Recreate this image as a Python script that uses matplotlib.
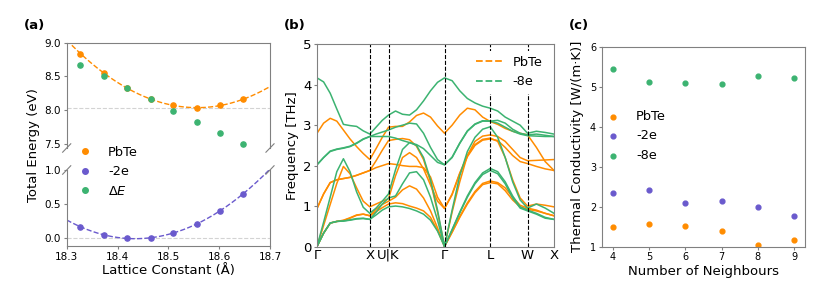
import numpy as np
import matplotlib.pyplot as plt
from matplotlib.lines import Line2D

orange = '#ff8c00'
purple = '#6a5acd'
green = '#3cb371'
spine_col = '#808080'

# (a) total energy vs lattice constant
lattice = [18.327, 18.373, 18.419, 18.465, 18.51, 18.556, 18.601, 18.647]
e_pbte = [8.84, 8.55, 8.33, 8.16, 8.07, 8.04, 8.07, 8.16]
e_m2e = [0.17, 0.055, 0.0, 0.01, 0.08, 0.21, 0.405, 0.65]
e_delta = [8.67, 8.50, 8.33, 8.16, 7.99, 7.83, 7.66, 7.50]

# (b) phonon bands along the path
sym_pos = [0, 1.0, 1.354, 2.414, 3.280, 3.987, 4.487]
sym_lab = ['Γ', 'X', 'U|K', 'Γ', 'L', 'W', 'X']
kpath = [0, .125, .25, .375, .5, .625, .75, .875, 1.0,
         1.118, 1.236, 1.354,
         1.487, 1.619, 1.752, 1.884, 2.017, 2.149, 2.282, 2.414,
         2.558, 2.703, 2.847, 2.991, 3.136, 3.280,
         3.421, 3.563, 3.704, 3.846, 3.987,
         4.154, 4.320, 4.487]

pbte_bands = [
    [0, 0.33, 0.58, 0.62, 0.64, 0.70, 0.77, 0.80, 0.76, 0.86, 0.96, 1.05,
     1.08, 1.06, 1.00, 0.95, 0.88, 0.72, 0.40, 0,
     0.35, 0.72, 1.05, 1.33, 1.53, 1.58, 1.55, 1.38, 1.15, 0.98, 0.92,
     0.88, 0.82, 0.76],
    [0, 0.33, 0.58, 0.62, 0.65, 0.71, 0.78, 0.80, 0.76, 0.92, 1.04, 1.12,
     1.22, 1.40, 1.50, 1.42, 1.20, 0.88, 0.46, 0,
     0.36, 0.74, 1.08, 1.36, 1.56, 1.62, 1.58, 1.45, 1.22, 1.02, 0.95,
     0.90, 0.82, 0.76],
    [0, 0.52, 1.04, 1.56, 1.98, 1.80, 1.45, 1.12, 0.98, 1.05, 1.12, 1.18,
     1.75, 2.20, 2.32, 2.20, 1.92, 1.52, 1.12, 0.94,
     1.30, 1.82, 2.25, 2.52, 2.65, 2.68, 2.60, 2.20, 1.65, 1.20, 1.00,
     1.05, 1.02, 0.98],
    [0.94, 1.30, 1.58, 1.65, 1.68, 1.71, 1.76, 1.82, 1.88, 1.95, 2.00, 2.05,
     2.03, 2.00, 1.98, 1.98, 1.95, 1.72, 1.22, 0.94,
     1.28, 1.80, 2.22, 2.50, 2.63, 2.66, 2.62, 2.45, 2.25, 2.10, 2.05,
     1.98, 1.92, 1.88],
    [0.94, 1.30, 1.58, 1.65, 1.68, 1.71, 1.76, 1.82, 1.88, 2.12, 2.38, 2.62,
     2.65, 2.67, 2.64, 2.48, 2.15, 1.60, 0.85, 0,
     0.85, 1.60, 2.25, 2.60, 2.73, 2.76, 2.72, 2.60, 2.40, 2.20, 2.12,
     2.13, 2.14, 2.15],
    [2.80, 3.05, 3.17, 3.10, 2.88, 2.66, 2.47, 2.30, 2.15, 2.42, 2.70, 2.95,
     2.97, 2.97, 3.08, 3.24, 3.30, 3.20, 2.98, 2.80,
     3.00, 3.25, 3.42, 3.38, 3.20, 3.09, 3.02, 2.92, 2.85, 2.80, 2.76,
     2.45, 2.10, 1.88],
]

m8e_bands = [
    [0, 0.33, 0.58, 0.62, 0.63, 0.65, 0.68, 0.69, 0.67, 0.78, 0.90, 0.98,
     1.00, 0.98, 0.94, 0.88, 0.80, 0.65, 0.38, 0,
     0.42, 0.85, 1.25, 1.58, 1.82, 1.93, 1.85, 1.60, 1.25, 0.98, 0.90,
     0.82, 0.72, 0.67],
    [0, 0.33, 0.58, 0.62, 0.63, 0.66, 0.69, 0.70, 0.67, 0.85, 1.05, 1.20,
     1.25, 1.55, 1.82, 1.85, 1.65, 1.22, 0.65, 0,
     0.41, 0.83, 1.22, 1.55, 1.78, 1.88, 1.80, 1.55, 1.20, 0.95, 0.88,
     0.80, 0.70, 0.67],
    [0, 0.60, 1.22, 1.85, 2.17, 1.85, 1.35, 0.97, 0.82, 0.95, 1.12, 1.30,
     1.90, 2.40, 2.57, 2.50, 2.20, 1.65, 0.90, 0,
     0.90, 1.75, 2.35, 2.70, 2.90, 2.96, 2.70, 2.20, 1.60, 1.15, 0.95,
     1.05, 0.95, 0.82],
    [2.02, 2.20, 2.35, 2.40, 2.43, 2.47, 2.55, 2.65, 2.72, 2.72, 2.72, 2.72,
     2.68, 2.62, 2.57, 2.52, 2.42, 2.25, 2.08, 2.02,
     2.20, 2.55, 2.85, 3.02, 3.10, 3.10, 3.05, 2.95, 2.85, 2.78, 2.74,
     2.73, 2.72, 2.72],
    [2.02, 2.20, 2.36, 2.41, 2.44, 2.48, 2.56, 2.66, 2.72, 2.78, 2.83, 2.88,
     2.95, 3.00, 3.05, 3.03, 2.80, 2.45, 2.15, 2.02,
     2.21, 2.56, 2.86, 3.03, 3.11, 3.10, 3.12, 3.05, 2.90, 2.80, 2.76,
     2.78, 2.75, 2.72],
    [4.17, 4.07, 3.79, 3.40, 3.02, 2.99, 2.97, 2.86, 2.78, 2.95, 3.12, 3.25,
     3.35, 3.27, 3.25, 3.38, 3.60, 3.85, 4.06, 4.17,
     4.10, 3.85, 3.66, 3.55, 3.47, 3.42, 3.35, 3.20, 3.10, 3.00, 2.80,
     2.85, 2.82, 2.78],
]

# (c) thermal conductivity vs number of neighbours
neigh = [4, 5, 6, 7, 8, 9]
kappa_pbte = [1.485, 1.56, 1.52, 1.385, 1.05, 1.16]
kappa_m2e = [2.34, 2.42, 2.10, 2.135, 1.985, 1.775]
kappa_m8e = [5.43, 5.12, 5.09, 5.07, 5.27, 5.21]

W, H = 830, 293
fig = plt.figure(figsize=(W / 100, H / 100), dpi=100)


def box(x0, y0, x1, y1):
    # pixel box (top-left origin) -> figure fraction rect
    return [x0 / W, 1 - y1 / H, (x1 - x0) / W, (y1 - y0) / H]


def style(ax, size):
    for s in ax.spines.values():
        s.set_color(spine_col)
    ax.tick_params(colors=spine_col, labelcolor='black', labelsize=size,
                   length=2.5, width=0.8, pad=1.5)


# ---------------- (a)
ax_top = fig.add_axes(box(66.7, 42.7, 270, 148))
ax_bot = fig.add_axes(box(66.7, 170, 270, 246))
for ax in (ax_top, ax_bot):
    style(ax, 7.5)
    ax.set_xlim(18.3, 18.7)

xs = np.linspace(18.3, 18.7, 200)
fit_top = np.polyval(np.polyfit(lattice, e_pbte, 2), xs)
fit_bot = np.polyval(np.polyfit(lattice, e_m2e, 3), xs)

ax_top.axhline(min(e_pbte), color='lightgrey', ls='--', lw=0.8)
ax_top.plot(xs, fit_top, '--', color=orange, lw=1)
ax_top.scatter(lattice, e_pbte, s=14, color=orange, zorder=3)
ax_top.scatter(lattice, e_delta, s=14, color=green, zorder=3)
ax_top.set_ylim(7.44, 9.0)
ax_top.set_yticks([7.5, 8.0, 8.5, 9.0])
ax_top.spines['bottom'].set_visible(False)
ax_top.tick_params(axis='x', bottom=False, labelbottom=False)

ax_bot.axhline(0, color='lightgrey', ls='--', lw=0.8)
ax_bot.plot(xs, fit_bot, '--', color=purple, lw=1)
ax_bot.scatter(lattice, e_m2e, s=14, color=purple, zorder=3)
ax_bot.set_ylim(-0.11, 1.0)
ax_bot.set_yticks([0.0, 0.5, 1.0])
ax_bot.set_xticks([18.3, 18.4, 18.5, 18.6, 18.7])
ax_bot.spines['top'].set_visible(False)
ax_bot.set_xlabel('Lattice Constant (Å)', fontsize=9.5, labelpad=2)

d = 0.02
kw = dict(color=spine_col, clip_on=False, lw=0.8)
ax_top.plot((-d, d), (-d * 2, d * 2), transform=ax_top.transAxes, **kw)
ax_top.plot((1 - d, 1 + d), (-d * 2, d * 2), transform=ax_top.transAxes, **kw)
ax_bot.plot((-d, d), (1 - d * 2.8, 1 + d * 2.8), transform=ax_bot.transAxes, **kw)
ax_bot.plot((1 - d, 1 + d), (1 - d * 2.8, 1 + d * 2.8), transform=ax_bot.transAxes, **kw)

fig.text(33 / W, 1 - 145 / H, 'Total Energy (eV)', rotation=90,
         ha='center', va='center', fontsize=9.5)

dot = lambda c: Line2D([], [], ls='', marker='o', ms=4, color=c)
fig.legend([dot(orange), dot(purple), dot(green)], ['PbTe', '-2e', r'$\Delta E$'],
           loc='upper left', bbox_to_anchor=(72 / W, 1 - 146 / H),
           frameon=False, fontsize=9.3, borderpad=0, borderaxespad=0)

# ---------------- (b)
axb = fig.add_axes(box(317, 44.3, 554, 246.5))
style(axb, 9.5)
for b in pbte_bands:
    axb.plot(kpath, b, color=orange, lw=1.1)
for b in m8e_bands:
    axb.plot(kpath, b, color=green, lw=1.1)
for p in sym_pos[1:-1]:
    axb.axvline(p, color='k', ls='--', lw=0.8)
axb.set_xlim(sym_pos[0], sym_pos[-1])
axb.set_ylim(0, 5)
axb.set_xticks(sym_pos)
axb.set_xticklabels(sym_lab, fontsize=9.5)
axb.tick_params(axis='x', length=0)
axb.set_ylabel('Frequency [THz]', fontsize=9.5, labelpad=3)
axb.legend([Line2D([], [], ls='--', color=orange, lw=1.3),
            Line2D([], [], ls='--', color=green, lw=1.3)], ['PbTe', '-8e'],
           loc='upper right', fontsize=9.3, framealpha=1, edgecolor='none')

# ---------------- (c)
axc = fig.add_axes(box(601.7, 46.7, 805, 246.7))
style(axc, 7)
axc.scatter(neigh, kappa_pbte, s=12, color=orange, label='PbTe')
axc.scatter(neigh, kappa_m2e, s=12, color=purple, label='-2e')
axc.scatter(neigh, kappa_m8e, s=12, color=green, label='-8e')
axc.set_xlim(3.7, 9.3)
axc.set_ylim(1, 6)
axc.set_xticks(neigh)
axc.set_xlabel('Number of Neighbours', fontsize=9.5, labelpad=2)
axc.set_ylabel('Thermal Conductivity [W/(m·K)]', fontsize=9.5, labelpad=4)
axc.legend(loc='upper left', bbox_to_anchor=(600 / W, 1 - 110 / H),
           bbox_transform=fig.transFigure, frameon=False, fontsize=9.3,
           borderpad=0, borderaxespad=0)

for x, y, t in [(34, 26, '(a)'), (295, 26, '(b)'), (579, 26, '(c)')]:
    fig.text(x / W, 1 - y / H, t, ha='center', va='center',
             fontsize=9.5, fontweight='bold')

fig.savefig('out.png', dpi=100)
